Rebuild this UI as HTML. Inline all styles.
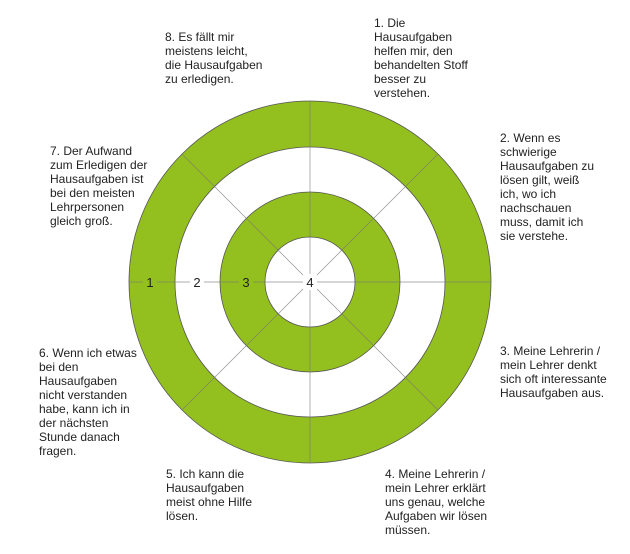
<!DOCTYPE html><html><head><style>
body{margin:0;background:#fff;width:630px;height:554px;position:relative;font-family:"Liberation Sans",sans-serif;font-size:12px;color:#222}
.t{position:absolute;line-height:14px}
</style></head><body>
<svg width="630" height="554" style="position:absolute;left:0;top:0">
<g stroke="#555" stroke-width="0.8">
<circle cx="310" cy="282" r="181" fill="#93bf1f"/>
<circle cx="310" cy="282" r="135" fill="#fff"/>
<circle cx="310" cy="282" r="90" fill="#93bf1f"/>
<circle cx="310" cy="282" r="45" fill="#fff"/>
</g>
<g stroke="#777" stroke-width="0.7" opacity="0.8">
<line x1="129" y1="282" x2="491" y2="282"/>
<line x1="310" y1="101" x2="310" y2="463"/>
<line x1="182" y1="154" x2="438" y2="410"/>
<line x1="182" y1="410" x2="438" y2="154"/>
</g>
<g font-family="Liberation Sans, sans-serif" font-size="13" fill="#222" text-anchor="middle">
<rect x="143" y="274" width="14" height="16" fill="#93bf1f"/><text x="150" y="287">1</text>
<rect x="190" y="274" width="14" height="16" fill="#fff"/><text x="197" y="287">2</text>
<rect x="239" y="274" width="14" height="16" fill="#93bf1f"/><text x="246" y="287">3</text>
<rect x="303" y="274" width="14" height="16" fill="#fff"/><text x="310" y="287">4</text>
</g>
</svg>
<div class="t" style="left:374px;top:16px">1. Die<br>Hausaufgaben<br>helfen mir, den<br>behandelten Stoff<br>besser zu<br>verstehen.</div>
<div class="t" style="left:500px;top:131px">2. Wenn es<br>schwierige<br>Hausaufgaben zu<br>lösen gilt, weiß<br>ich, wo ich<br>nachschauen<br>muss, damit ich<br>sie verstehe.</div>
<div class="t" style="left:500px;top:344px">3. Meine Lehrerin /<br>mein Lehrer denkt<br>sich oft interessante<br>Hausaufgaben aus.</div>
<div class="t" style="left:385px;top:467px">4. Meine Lehrerin /<br>mein Lehrer erklärt<br>uns genau, welche<br>Aufgaben wir lösen<br>müssen.</div>
<div class="t" style="left:166px;top:467px">5. Ich kann die<br>Hausaufgaben<br>meist ohne Hilfe<br>lösen.</div>
<div class="t" style="left:39px;top:346px">6. Wenn ich etwas<br>bei den<br>Hausaufgaben<br>nicht verstanden<br>habe, kann ich in<br>der nächsten<br>Stunde danach<br>fragen.</div>
<div class="t" style="left:50px;top:144px">7. Der Aufwand<br>zum Erledigen der<br>Hausaufgaben ist<br>bei den meisten<br>Lehrpersonen<br>gleich groß.</div>
<div class="t" style="left:165px;top:30px">8. Es fällt mir<br>meistens leicht,<br>die Hausaufgaben<br>zu erledigen.</div>
</body></html>
